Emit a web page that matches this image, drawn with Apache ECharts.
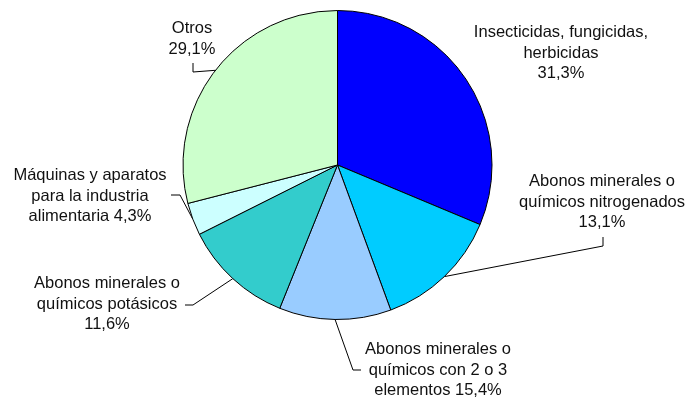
<!DOCTYPE html>
<html>
<head>
<meta charset="utf-8">
<script src="https://cdn.jsdelivr.net/npm/echarts@6/dist/echarts.min.js"></script>
<style>html,body{margin:0;padding:0;background:#fff}#c{width:690px;height:398px}</style>
</head>
<body>
<div id="c"></div>
<script>
// Categories (clockwise from 12 o'clock)
var categories = [
  "Insecticidas, fungicidas,\nherbicidas",
  "Abonos minerales o\nquímicos nitrogenados",
  "Abonos minerales o\nquímicos con 2 o 3\nelementos",
  "Abonos minerales o\nquímicos potásicos",
  "Máquinas y aparatos\npara la industria\nalimentaria",
  "Otros"
];
// Slice shares as drawn in the picture (%)
var sliceValues = [31.3, 13.1, 11.7, 11.5, 3.4, 29.0];
// Percentages printed on the labels
var labelPercents = ["31,3%", "13,1%", "15,4%", "11,6%", "4,3%", "29,1%"];
var labelSeparators = ["\n", "\n", " ", "\n", " ", "\n"];
var colors = ["#0000FF", "#00CCFF", "#99CCFF", "#33CCCC", "#CCFFFF", "#CCFFCC"];

// label placement (layout only)
var labelPos = [
  {x: 561, y: 53, line: null},
  {x: 602, y: 202, line: [[603, 246], [603, 237]]},
  {x: 438, y: 370, line: [[353, 370], [361, 370]]},
  {x: 107, y: 304, line: [[193, 305], [185, 305]]},
  {x: 90, y: 196, line: [[180, 195], [171, 195]]},
  {x: 192, y: 39, line: [[193, 72], [193, 63]]}
];

var data = categories.map(function (c, i) {
  return {
    name: c,
    value: sliceValues[i],
    itemStyle: {color: colors[i]},
    labelLine: {show: labelPos[i].line !== null}
  };
});

var chart = echarts.init(document.getElementById('c'), null, {renderer: 'canvas'});
chart.setOption({
  animation: false,
  backgroundColor: '#ffffff',
  series: [{
    type: 'pie',
    center: [337.5, 165],
    radius: [0, 154.5],
    startAngle: 90,
    clockwise: true,
    avoidLabelOverlap: false,
    data: data,
    itemStyle: {borderColor: '#000000', borderWidth: 1},
    emphasis: {disabled: true},
    label: {
      show: true,
      position: 'outside',
      fontFamily: 'Liberation Sans, Arial, sans-serif',
      fontSize: 16.5,
      lineHeight: 20.5,
      color: '#111111',
      align: 'center',
      formatter: function (p) {
        return p.name + labelSeparators[p.dataIndex] + labelPercents[p.dataIndex];
      }
    },
    labelLine: {show: true, lineStyle: {color: '#000000', width: 1}},
    labelLayout: function (params) {
      var lp = labelPos[params.dataIndex];
      var res = {x: lp.x, y: lp.y, align: 'center', verticalAlign: 'middle', hideOverlap: false};
      if (lp.line) {
        var pts = params.labelLinePoints;
        var start = pts && pts[0] ? pts[0] : lp.line[0];
        res.labelLinePoints = [start, lp.line[0], lp.line[1]];
      }
      return res;
    }
  }]
});
</script>
</body>
</html>
